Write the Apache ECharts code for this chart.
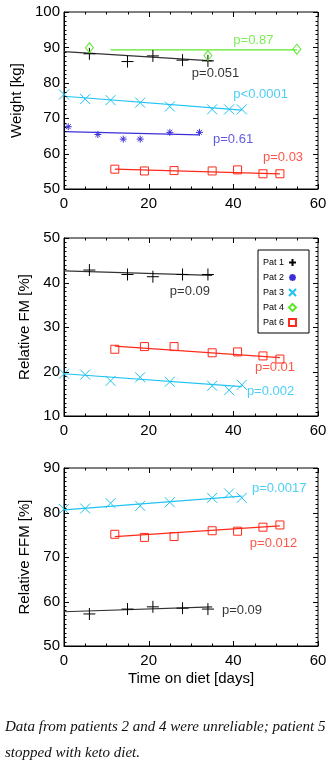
<!DOCTYPE html>
<html>
<head>
<meta charset="utf-8">
<script src="https://cdn.jsdelivr.net/npm/echarts@6/dist/echarts.min.js"></script>
<style>
  html, body { margin: 0; padding: 0; background: #fff; }
  #chart { width: 330px; height: 768px; }
</style>
</head>
<body>
<div id="chart"></div>
<script>
// Measurement days per patient
const pat1Days = [6, 15, 21, 28, 34];
const pat2Days = [1, 8, 14, 18, 25, 32];
const pat3Days = [0, 5, 11, 18, 25, 35, 39, 42];
const pat4Days = [6, 34, 55];
const pat6Days = [12, 19, 26, 35, 41, 47, 51];

// Body weight [kg]
const pat1Weight = [88.2, 86.0, 87.6, 86.4, 86.2];
const pat2Weight = [67.6, 65.4, 64.1, 64.1, 66.0, 66.0];
const pat3Weight = [76.7, 75.4, 75.1, 74.4, 73.3, 72.5, 72.5, 72.5];
const pat4Weight = [89.9, 87.7, 89.5];
const pat6Weight = [55.6, 55.1, 55.2, 55.1, 55.4, 54.3, 54.3];

// Relative fat mass [%]
const pat1FM = [42.8, 41.8, 41.3, 41.8, 41.8];
const pat3FM = [19.5, 19.3, 17.9, 18.7, 17.7, 16.8, 15.8, 17.0];
const pat6FM = [25.0, 25.6, 25.6, 24.2, 24.4, 23.5, 22.8];

// Relative fat-free mass [%]
const pat1FFM = [57.2, 58.3, 58.8, 58.5, 58.3];
const pat3FFM = [80.8, 80.9, 82.1, 81.5, 82.3, 83.3, 84.3, 83.3];
const pat6FFM = [75.1, 74.4, 74.6, 75.9, 75.8, 76.7, 77.2];

// Linear fits: [startDay, endDay] and [startValue, endValue]
const fitWeight = {
  'Pat 1': [[0, 35], [88.8, 86.2]],
  'Pat 2': [[0, 32], [66.2, 65.3]],
  'Pat 3': [[0, 42], [76.2, 72.3]],
  'Pat 4': [[11, 55], [89.3, 89.3]],
  'Pat 6': [[12, 51], [55.6, 54.3]]
};
const fitFM = {
  'Pat 1': [[0, 35], [42.6, 41.6]],
  'Pat 3': [[0, 42], [19.5, 16.6]],
  'Pat 6': [[12, 51], [25.7, 23.1]]
};
const fitFFM = {
  'Pat 1': [[0, 35], [57.7, 58.8]],
  'Pat 3': [[0, 42], [80.6, 83.7]],
  'Pat 6': [[12, 51], [74.6, 77.0]]
};

// Significance labels: [text, day, value, patient]
const pWeight = [
  ['p=0.87', 40, 91.9, 'Pat 4'],
  ['p=0.051', 30.2, 82.7, 'Pat 1'],
  ['p<0.0001', 40, 76.6, 'Pat 3'],
  ['p=0.61', 35.2, 64.1, 'Pat 2'],
  ['p=0.03', 47, 59.0, 'Pat 6']
];
const pFM = [
  ['p=0.09', 25, 38.0, 'Pat 1'],
  ['p=0.01', 45.1, 20.9, 'Pat 6'],
  ['p=0.002', 43.2, 15.5, 'Pat 3']
];
const pFFM = [
  ['p=0.0017', 44.4, 85.5, 'Pat 3'],
  ['p=0.012', 43.9, 73.1, 'Pat 6'],
  ['p=0.09', 37.3, 58.1, 'Pat 1']
];

// Tick values
const xMajorTicks = [0, 20, 40, 60];
const yMajorTicks = [
  [50, 60, 70, 80, 90, 100],
  [10, 20, 30, 40, 50],
  [50, 60, 70, 80, 90]
];
const xMinorPerMajor = 4;
const yMinorPerMajor = [8, 10, 10];

const legendNames = ['Pat 1', 'Pat 2', 'Pat 3', 'Pat 4', 'Pat 6'];

const FONT = 'Liberation Sans, Arial, Helvetica, sans-serif';
const colors = {
  'Pat 1': '#000000',
  'Pat 2': '#3b2fd9',
  'Pat 3': '#1fc3f2',
  'Pat 4': '#5be82a',
  'Pat 6': '#ff2a1a'
};
const symbols = {
  'Pat 1': { symbol: 'path://M0,5L10,5M5,0L5,10', size: 12 },
  'Pat 2': { symbol: 'path://M0,5L10,5M5,0L5,10M1.5,1.5L8.5,8.5M8.5,1.5L1.5,8.5', size: 7 },
  'Pat 3': { symbol: 'path://M0,0L10,10M10,0L0,10', size: 10 },
  'Pat 4': { symbol: 'diamond', size: [8, 10] },
  'Pat 6': { symbol: 'rect', size: 8 }
};

function zip(xs, ys) { return xs.map((x, i) => [x, ys[i]]); }

function scatter(name, days, vals, idx) {
  const s = symbols[name];
  return {
    type: 'scatter', name: name, xAxisIndex: idx, yAxisIndex: idx,
    data: zip(days, vals), symbol: s.symbol, symbolSize: s.size,
    itemStyle: { color: 'rgba(255,255,255,0)', borderColor: colors[name], borderWidth: 1, opacity: 1 },
    z: 3, silent: true
  };
}

function fitLine(name, fit, idx) {
  return {
    type: 'line', name: name + ' fit', xAxisIndex: idx, yAxisIndex: idx,
    data: zip(fit[0], fit[1]), symbol: 'none', silent: true,
    lineStyle: { color: name === 'Pat 1' ? '#333' : colors[name], width: 1.2 }, z: 2
  };
}

function pLabels(list, idx) {
  return {
    type: 'scatter', name: 'p' + idx, xAxisIndex: idx, yAxisIndex: idx,
    symbolSize: 0, silent: true, z: 4,
    data: list.map(d => ({
      value: [d[1], d[2]],
      label: {
        show: true, formatter: d[0], position: [0, 0], align: 'left', verticalAlign: 'middle',
        color: colors[d[3]], fontSize: 13, fontFamily: FONT
      }
    }))
  };
}

// Subdivide consecutive major ticks into minor ones
function minorBetween(majors, parts) {
  const out = [];
  for (let k = 0; k < majors.length - 1; k++) {
    const step = (majors[k + 1] - majors[k]) / parts;
    for (let j = 1; j < parts; j++) out.push(majors[k] + step * j);
  }
  return out;
}

// Inward ticks on all four sides of a panel frame, placed through the axis scales.
// kind: 0 = x major, 1 = x minor, 2 = y major, 3 = y minor
function tickSeries(idx) {
  const yMin = yMajorTicks[idx][0];
  const data = [];
  xMajorTicks.forEach(v => data.push([v, yMin, 0]));
  minorBetween(xMajorTicks, xMinorPerMajor).forEach(v => data.push([v, yMin, 1]));
  yMajorTicks[idx].forEach(v => data.push([0, v, 2]));
  minorBetween(yMajorTicks[idx], yMinorPerMajor[idx]).forEach(v => data.push([0, v, 3]));
  return {
    type: 'custom', name: 'ticks' + idx, xAxisIndex: idx, yAxisIndex: idx,
    silent: true, clip: false, z: 5, data: data,
    renderItem: function (params, api) {
      const cs = params.coordSys;
      const kind = api.value(2);
      const p = api.coord([api.value(0), api.value(1)]);
      const len = kind % 2 === 0 ? 5 : 2.5;
      const st = { stroke: '#000', lineWidth: 1 };
      if (kind < 2) {
        const x = Math.round(p[0]) + 0.5;
        const top = cs.y, bot = cs.y + cs.height;
        return { type: 'group', children: [
          { type: 'line', shape: { x1: x, y1: bot, x2: x, y2: bot - len }, style: st },
          { type: 'line', shape: { x1: x, y1: top, x2: x, y2: top + len }, style: st }
        ] };
      }
      const y = Math.round(p[1]) + 0.5;
      const l = cs.x, r = cs.x + cs.width;
      return { type: 'group', children: [
        { type: 'line', shape: { x1: l, y1: y, x2: l + len, y2: y }, style: st },
        { type: 'line', shape: { x1: r, y1: y, x2: r - len, y2: y }, style: st }
      ] };
    }
  };
}

const grids = [
  { left: 64, top: 12, width: 254, height: 177 },
  { left: 64, top: 238, width: 254, height: 178 },
  { left: 64, top: 468, width: 254, height: 178 }
].map(g => Object.assign(g, { show: true, borderColor: '#000', borderWidth: 1, backgroundColor: 'transparent' }));
const yNames = ['Weight [kg]', 'Relative FM [%]', 'Relative FFM [%]'];
const yNameGaps = [38, 31, 31];

const line = { show: true, onZero: false, lineStyle: { color: '#000', width: 1 } };
const xAxes = grids.map((g, i) => ({
  type: 'value', gridIndex: i, min: 0, max: 60, interval: 20, position: 'bottom',
  axisLine: line, axisTick: { show: false }, splitLine: { show: false },
  axisLabel: { show: true, margin: 7, fontSize: 15, color: '#000', fontFamily: FONT },
  name: i === 2 ? 'Time on diet [days]' : '', nameLocation: 'middle', nameGap: 25,
  nameTextStyle: { fontSize: 15, color: '#000', fontFamily: FONT }
}));
const yAxes = grids.map((g, i) => ({
  type: 'value', gridIndex: i, min: yMajorTicks[i][0], max: yMajorTicks[i][yMajorTicks[i].length - 1],
  interval: 10, position: 'left',
  axisLine: line, axisTick: { show: false }, splitLine: { show: false },
  axisLabel: { show: true, margin: 4, fontSize: 15, color: '#000', fontFamily: FONT },
  name: yNames[i], nameLocation: 'middle', nameGap: yNameGaps[i], nameRotate: 90,
  nameTextStyle: { fontSize: 15, color: '#000', fontFamily: FONT }
}));

const series = [];
// Weight panel
series.push(fitLine('Pat 4', fitWeight['Pat 4'], 0));
series.push(fitLine('Pat 1', fitWeight['Pat 1'], 0));
series.push(fitLine('Pat 3', fitWeight['Pat 3'], 0));
series.push(fitLine('Pat 2', fitWeight['Pat 2'], 0));
series.push(fitLine('Pat 6', fitWeight['Pat 6'], 0));
series.push(scatter('Pat 1', pat1Days, pat1Weight, 0));
series.push(scatter('Pat 2', pat2Days, pat2Weight, 0));
series.push(scatter('Pat 3', pat3Days, pat3Weight, 0));
series.push(scatter('Pat 4', pat4Days, pat4Weight, 0));
series.push(scatter('Pat 6', pat6Days, pat6Weight, 0));
series.push(pLabels(pWeight, 0));
// Fat mass panel
series.push(fitLine('Pat 1', fitFM['Pat 1'], 1));
series.push(fitLine('Pat 3', fitFM['Pat 3'], 1));
series.push(fitLine('Pat 6', fitFM['Pat 6'], 1));
series.push(scatter('Pat 1', pat1Days, pat1FM, 1));
series.push(scatter('Pat 3', pat3Days, pat3FM, 1));
series.push(scatter('Pat 6', pat6Days, pat6FM, 1));
series.push(pLabels(pFM, 1));
// Fat-free mass panel
series.push(fitLine('Pat 1', fitFFM['Pat 1'], 2));
series.push(fitLine('Pat 3', fitFFM['Pat 3'], 2));
series.push(fitLine('Pat 6', fitFFM['Pat 6'], 2));
series.push(scatter('Pat 1', pat1Days, pat1FFM, 2));
series.push(scatter('Pat 3', pat3Days, pat3FFM, 2));
series.push(scatter('Pat 6', pat6Days, pat6FFM, 2));
series.push(pLabels(pFFM, 2));
// Frame ticks
[0, 1, 2].forEach(i => series.push(tickSeries(i)));

const chart = echarts.init(document.getElementById('chart'), null, { renderer: 'canvas' });
chart.setOption({
  animation: false,
  backgroundColor: '#fff',
  grid: grids,
  xAxis: xAxes,
  yAxis: yAxes,
  legend: {
    data: legendNames, orient: 'vertical', left: 258, top: 250, align: 'right',
    itemWidth: 7, itemHeight: 7, itemGap: 6, padding: [8, 12, 6, 5],
    borderColor: '#000', borderWidth: 1, backgroundColor: '#fff', borderRadius: 0,
    selectedMode: false, textStyle: { fontSize: 9, color: '#000', fontFamily: FONT }
  },
  graphic: [
    { type: 'text', left: 5, top: 720,
      style: { text: 'Data from patients 2 and 4 were unreliable; patient 5', fill: '#111',
        font: 'italic 15px "Liberation Serif", serif' } },
    { type: 'text', left: 5, top: 746,
      style: { text: 'stopped with keto diet.', fill: '#111',
        font: 'italic 15px "Liberation Serif", serif' } }
  ],
  series: series
});
</script>
</body>
</html>
